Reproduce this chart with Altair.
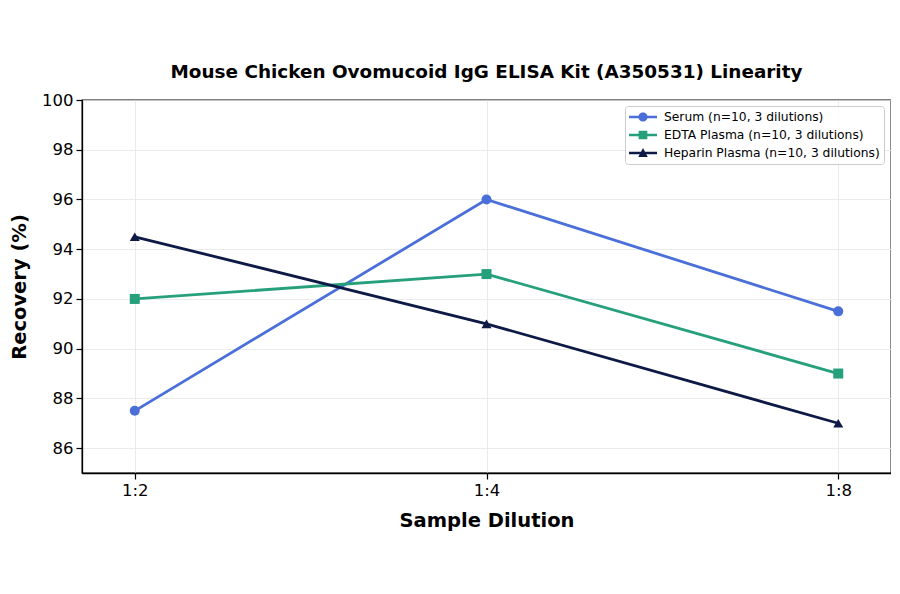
import altair as alt
import pandas as pd

dilutions = ["1:2", "1:4", "1:8"]
series = ["Serum (n=10, 3 dilutions)", "EDTA Plasma (n=10, 3 dilutions)", "Heparin Plasma (n=10, 3 dilutions)"]
serum = [87.5, 96.0, 91.5]
edta = [92.0, 93.0, 89.0]
heparin = [94.5, 91.0, 87.0]
colors = ["#4a6fd8", "#25a07a", "#0e1a46"]
marker_shapes = ["circle", "square", "triangle-up"]
y_ticks = [86, 88, 90, 92, 94, 96, 98, 100]

# legend glyphs: a line segment with the marker on it
legend_shapes = [
    "M-1,-0.19 H3 V0.19 H-1 Z M1.66,0 A0.66,0.66 0 1,1 0.34,0 A0.66,0.66 0 1,1 1.66,0 Z",
    "M-1,-0.19 H3 V0.19 H-1 Z M0.38,-0.62 H1.62 V0.62 H0.38 Z",
    "M-1,-0.19 H3 V0.19 H-1 Z M1,-0.72 L1.68,0.56 L0.32,0.56 Z",
]

rows = []
for s, vals in zip(series, [serum, edta, heparin]):
    for d, v in zip(dilutions, vals):
        rows.append({"series": s, "dilution": d, "recovery": v, "order": series.index(s)})
df = pd.DataFrame(rows)

x = alt.X("dilution:N", sort=dilutions,
          scale=alt.Scale(type="point", padding=0.15),
          axis=alt.Axis(title="Sample Dilution", labelAngle=0))
y = alt.Y("recovery:Q", scale=alt.Scale(domain=[85, 100], nice=False, zero=False),
          axis=alt.Axis(title="Recovery (%)", values=y_ticks))

color_scale = alt.Scale(domain=series, range=colors)

base = alt.Chart(df)

lines = base.mark_line(strokeWidth=2.8).encode(
    x=x, y=y,
    color=alt.Color("series:N", scale=color_scale, legend=None),
    order=alt.Order("order:Q"),
)

points = base.mark_point(filled=True, size=100, opacity=1).encode(
    x=x, y=y,
    color=alt.Color("series:N", scale=color_scale, legend=None),
    shape=alt.Shape("series:N", scale=alt.Scale(domain=series, range=marker_shapes), legend=None),
)

legend_layer = base.mark_point(filled=True, opacity=0, size=196).encode(
    x=x, y=y,
    color=alt.Color("series:N", scale=color_scale,
                    legend=alt.Legend(title=None, orient="none", legendX=543, legendY=6)),
    shape=alt.Shape("series:N", scale=alt.Scale(domain=series, range=legend_shapes),
                    legend=alt.Legend(title=None, orient="none", legendX=543, legendY=6)),
)

chart = alt.layer(lines, points, legend_layer).resolve_scale(
    color="independent", shape="independent"
).properties(
    width=809, height=373,
    title=alt.TitleParams(
        "Mouse Chicken Ovomucoid IgG ELISA Kit (A350531) Linearity",
        font="DejaVu Sans", fontSize=18.4, fontWeight="bold", color="black",
        anchor="middle", frame="group", offset=11,
    ),
    autosize=alt.AutoSizeParams(type="none"),
    padding={"left": 74, "top": 92, "right": 0, "bottom": 80},
).configure_view(
    stroke="black", strokeWidth=1.3,
).configure_axis(
    labelFont="DejaVu Sans", labelFontSize=16.5, labelColor="black",
    titleFont="DejaVu Sans", titleFontSize=19.5, titleFontWeight="bold", titleColor="black",
    domainColor="black", domainWidth=1.3,
    tickColor="black", tickSize=6, tickWidth=1.2,
    grid=True, gridColor="#e6e6e6", gridWidth=0.8,
    labelPadding=3,
).configure_axisX(
    titlePadding=13,
).configure_axisY(
    titlePadding=12,
).configure_legend(
    padding=4, strokeColor="#cccccc", fillColor="rgba(255,255,255,0.85)", cornerRadius=3,
    labelFont="DejaVu Sans", labelFontSize=12.3, labelColor="black", labelLimit=400,
    symbolSize=196, rowPadding=4, labelOffset=21, symbolOpacity=1, symbolStrokeWidth=0,
)

chart.save("out.html", embed_options={"renderer": "svg", "actions": False})
